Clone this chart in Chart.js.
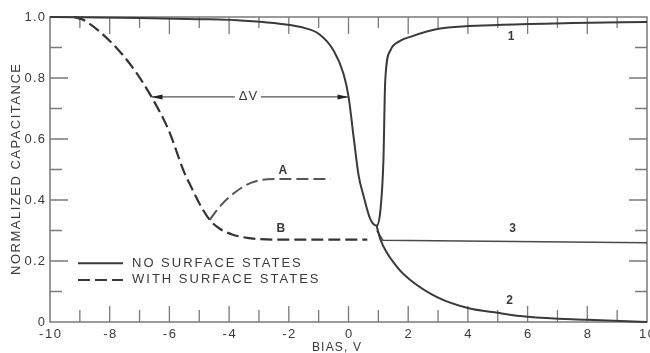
<!DOCTYPE html>
<html>
<head>
<meta charset="utf-8">
<script src="https://cdn.jsdelivr.net/npm/chart.js@4"></script>
<style>
  html, body { margin: 0; padding: 0; background: #fff; }
  canvas { display: block; }
</style>
</head>
<body>
<canvas id="chartCV" width="650" height="353"></canvas>
<script>
// C-V curves of an MIS capacitor, with and without surface states

const xTickValues = [-10, -8, -6, -4, -2, 0, 2, 4, 6, 8, 10];
const xTickLabels = ['-10', '-8', '-6', '-4', '-2', '0', '2', '4', '6', '8', '10'];
const yTickValues = [0, 0.2, 0.4, 0.6, 0.8, 1.0];
const yTickLabels = ['0', '0.2', '0.4', '0.6', '0.8', '1.0'];

// curve 1: no surface states, low-frequency
const curve1Bias = [-10, -7, -5, -3.5, -2.5, -1.6, -1, -0.5, -0.17, 0, 0.18, 0.34, 0.5, 0.73, 0.94, 1.07, 1.17, 1.23, 1.4, 1.7, 2.07, 3.07, 5, 7.5, 10];
const curve1Cap = [1.0, 0.997, 0.993, 0.988, 0.98, 0.967, 0.945, 0.89, 0.815, 0.74, 0.6, 0.48, 0.415, 0.337, 0.316, 0.367, 0.53, 0.79, 0.89, 0.92, 0.935, 0.962, 0.974, 0.98, 0.984];

// curve 2: deep depletion
const curve2Bias = [0.94, 1.07, 1.63, 2.07, 3, 4, 5, 6, 8, 10];
const curve2Cap = [0.316, 0.27, 0.18, 0.138, 0.08, 0.046, 0.03, 0.017, 0.007, 0.0];

// curve 3: high-frequency inversion
const curve3Bias = [0.95, 1.15, 10];
const curve3Cap = [0.3, 0.268, 0.26];

// with surface states, branches A and B
const curveBBias = [-9.2, -8.87, -7.93, -7.17, -6.6, -6.03, -5.5, -5.27, -4.93, -4.65, -4.3, -3.9, -3.4, -2.5, 0.63];
const curveBCap = [1.0, 0.99, 0.915, 0.826, 0.738, 0.63, 0.49, 0.443, 0.377, 0.335, 0.305, 0.287, 0.276, 0.27, 0.27];
const curveABias = [-4.65, -4.3, -3.83, -3.27, -2.5, -0.6];
const curveACap = [0.335, 0.38, 0.423, 0.456, 0.469, 0.469];

// voltage shift between the two curves
const deltaVFrom = -6.6;
const deltaVTo = 0;
const deltaVLevel = 0.738;

const curveLabels = [
  { text: 'ΔV', x: -3.37, y: 0.738 },
  { text: 'A', x: -2.2, y: 0.495 },
  { text: 'B', x: -2.27, y: 0.305 },
  { text: '1', x: 5.45, y: 0.935 },
  { text: '2', x: 5.4, y: 0.07 },
  { text: '3', x: 5.5, y: 0.305 },
];

const legendItems = ['NO SURFACE STATES', 'WITH SURFACE STATES'];

const INK = '#3a3a3a';
const FRAME = '#7a7a7a';
const DASH = [12, 5];

function pts(xs, ys) {
  return xs.map((x, i) => ({ x: x, y: ys[i] }));
}

function line(data, opts) {
  return Object.assign({
    data: data,
    showLine: true,
    pointRadius: 0,
    borderColor: INK,
    borderWidth: 2,
    fill: false,
    cubicInterpolationMode: 'monotone',
    clip: 6,
  }, opts);
}

function drawText(ctx, text, x, y, font, align, spacing) {
  ctx.save();
  ctx.font = font;
  ctx.fillStyle = INK;
  ctx.textBaseline = 'middle';
  ctx.letterSpacing = (spacing || 0) + 'px';
  let w = ctx.measureText(text).width;
  let sx = x;
  if (align === 'center') sx = x - w / 2 + (spacing || 0) / 2;
  else if (align === 'right') sx = x - w + (spacing || 0);
  ctx.textAlign = 'left';
  ctx.fillText(text, sx, y);
  ctx.restore();
}

function arrowHead(ctx, tipX, y, dir) {
  ctx.beginPath();
  ctx.moveTo(tipX, y);
  ctx.lineTo(tipX - dir * 11, y - 2.5);
  ctx.lineTo(tipX - dir * 11, y + 2.5);
  ctx.closePath();
  ctx.fill();
}

const framePlugin = {
  id: 'frame',
  beforeDatasetsDraw(chart) {
    const { ctx, chartArea: a, scales } = chart;
    const xs = scales.x, ys = scales.y;
    ctx.save();
    ctx.strokeStyle = FRAME;
    ctx.lineWidth = 1.5;
    ctx.strokeRect(a.left, a.top, a.right - a.left, a.bottom - a.top);

    // inward ticks, every volt along x and every 0.1 along y
    ctx.lineWidth = 1.3;
    ctx.beginPath();
    for (let v = -9; v <= 9; v++) {
      const px = xs.getPixelForValue(v);
      const major = v % 2 === 0;
      ctx.moveTo(px, a.bottom);
      ctx.lineTo(px, a.bottom - (major ? 16 : 12));
      ctx.moveTo(px, a.top);
      ctx.lineTo(px, a.top + (major ? 17 : 11));
    }
    for (let k = 1; k <= 9; k++) {
      const py = ys.getPixelForValue(k / 10);
      const major = k % 2 === 0;
      ctx.moveTo(a.left, py);
      ctx.lineTo(a.left + (major ? 18 : 12), py);
      ctx.moveTo(a.right, py);
      ctx.lineTo(a.right - (major ? 18 : 12), py);
    }
    ctx.stroke();
    ctx.restore();

    const tickFont = '13px "Liberation Sans", Arial, sans-serif';
    xTickValues.forEach((v, i) => {
      drawText(ctx, xTickLabels[i], xs.getPixelForValue(v), a.bottom + 12, tickFont, 'center', 1.5);
    });
    yTickValues.forEach((v, i) => {
      drawText(ctx, yTickLabels[i], a.left - 5, ys.getPixelForValue(v), tickFont, 'right', 1.2);
    });

    const titleFont = '13px "Liberation Sans", Arial, sans-serif';
    drawText(ctx, 'BIAS, V', (a.left + a.right) / 2 - 12, a.bottom + 26, '12px "Liberation Sans", Arial, sans-serif', 'center', 1.2);
    ctx.save();
    ctx.translate(16, (a.top + a.bottom) / 2);
    ctx.rotate(-Math.PI / 2);
    drawText(ctx, 'NORMALIZED CAPACITANCE', 0, 0, titleFont, 'center', 1.5);
    ctx.restore();
  },
  afterDatasetsDraw(chart) {
    const { ctx, chartArea: a, scales } = chart;
    const xs = scales.x, ys = scales.y;
    const labelFont = 'bold 12px "Liberation Sans", Arial, sans-serif';

    // ΔV double arrow
    const y = ys.getPixelForValue(deltaVLevel);
    const x0 = xs.getPixelForValue(deltaVFrom);
    const x1 = xs.getPixelForValue(deltaVTo);
    ctx.save();
    ctx.strokeStyle = '#555';
    ctx.fillStyle = '#222';
    ctx.lineWidth = 1.3;
    ctx.beginPath();
    ctx.moveTo(x0, y);
    ctx.lineTo(x1, y);
    ctx.stroke();
    arrowHead(ctx, x0, y, -1);
    arrowHead(ctx, x1, y, 1);
    ctx.restore();

    curveLabels.forEach((l) => {
      const px = xs.getPixelForValue(l.x);
      const py = ys.getPixelForValue(l.y);
      if (l.text === 'ΔV') {
        ctx.save();
        ctx.fillStyle = '#fff';
        ctx.fillRect(px - 13, py - 7, 26, 14);
        ctx.restore();
        drawText(ctx, l.text, px, py, '13px "Liberation Sans", Arial, sans-serif', 'center', 1);
      } else {
        drawText(ctx, l.text, px, py, labelFont, 'center', 0);
      }
    });

    // legend, styled after the solid and dashed datasets
    const lx0 = a.left + 28;
    const lx1 = a.left + 73;
    const ly = [ys.getPixelForValue(0.193), ys.getPixelForValue(0.138)];
    ctx.save();
    ctx.strokeStyle = INK;
    ctx.lineWidth = 2;
    legendItems.forEach((txt, i) => {
      const ds = chart.data.datasets[i === 0 ? 0 : 3];
      ctx.setLineDash(ds.borderDash || []);
      ctx.beginPath();
      ctx.moveTo(lx0, ly[i]);
      ctx.lineTo(lx1, ly[i]);
      ctx.stroke();
    });
    ctx.restore();
    legendItems.forEach((txt, i) => {
      drawText(ctx, txt, lx1 + 9, ly[i], '13px "Liberation Sans", Arial, sans-serif', 'left', 2);
    });
  },
};

new Chart(document.getElementById('chartCV'), {
  type: 'scatter',
  data: {
    datasets: [
      line(pts(curve1Bias, curve1Cap), { label: '1' }),
      line(pts(curve2Bias, curve2Cap), { label: '2' }),
      line(pts(curve3Bias, curve3Cap), { label: '3', borderWidth: 1.6, borderColor: '#4a4a4a', cubicInterpolationMode: 'default', tension: 0 }),
      line(pts(curveBBias, curveBCap), { label: 'B', borderDash: DASH, borderWidth: 2.2, borderColor: '#333' }),
      line(pts(curveABias, curveACap), { label: 'A', borderDash: DASH, borderColor: '#555' }),
    ],
  },
  options: {
    responsive: false,
    animation: false,
    layout: { padding: { left: 50, top: 17, right: 3, bottom: 31 } },
    plugins: { legend: { display: false }, tooltip: { enabled: false } },
    scales: {
      x: { type: 'linear', min: -10, max: 10, display: false },
      y: { type: 'linear', min: 0, max: 1, display: false },
    },
  },
  plugins: [framePlugin],
});
</script>
</body>
</html>
